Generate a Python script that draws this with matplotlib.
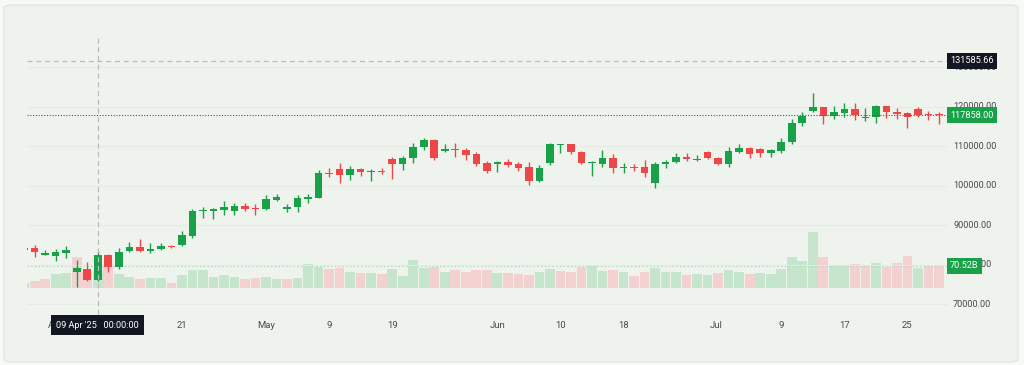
import matplotlib
matplotlib.use("Agg")
import matplotlib.pyplot as plt
from matplotlib.patches import FancyBboxPatch
from matplotlib.lines import Line2D
from matplotlib.transforms import blended_transform_factory
import numpy as np

plt.rcParams["font.family"] = ["Roboto", "DejaVu Sans"]

# ── OHLC data (one candle per bar, left to right) ─────────────────────────────
opens = [83840, 84300, 82530, 82270, 83030, 78150, 78980, 76120, 82530, 79340,
         83540, 84480, 83460, 83890, 84800, 84910, 87260, 93520, 93670, 93840,
         93590, 94930, 94280, 94020, 96380, 94170, 94530, 96630, 96960, 103290,
         104150, 102710, 104150, 103390, 103800, 106680, 105420, 106940, 109720, 111570,
         108860, 109290, 109040, 107950, 105670, 105490, 106070, 105420, 104660, 101260,
         105670, 110230, 110430, 108610, 105670, 105420, 106940, 104480, 104810, 104660,
         100760, 105420, 106000, 107260, 106560, 108450, 107090, 105420, 108610, 109620,
         109210, 108200, 108860, 111140, 115800, 118910, 119850, 117720, 118480, 119340,
         117140, 117320, 120180, 118730, 118330, 119490, 118080, 117950]
highs = [84480, 84980, 83720, 83970, 84730, 81180, 80680, 83460, 82700, 84300,
         85820, 86430, 85410, 85410, 84980, 88530, 94020, 94680, 94280, 96120,
         95540, 95540, 95290, 97640, 97900, 95290, 97640, 97900, 103970, 104400,
         105820, 104990, 104560, 104150, 104560, 107190, 107520, 110730, 112150, 111820,
         110560, 110890, 109470, 108610, 106250, 106250, 106760, 105920, 106070, 105240,
         110730, 110560, 110560, 108780, 106250, 109040, 107950, 105670, 105420, 106500,
         106070, 106500, 108200, 108200, 107770, 108780, 107340, 109870, 110560, 109870,
         109620, 109290, 112000, 116810, 118730, 123390, 119920, 120180, 121010, 120860,
         119600, 120430, 120300, 119600, 118580, 119850, 118990, 118730]
lows = [83460, 82020, 82450, 81010, 81620, 74420, 75940, 75940, 78070, 78830,
        83290, 83250, 82880, 83720, 84300, 84730, 86830, 91740, 91570, 92580,
        92580, 93590, 92580, 93840, 96120, 93410, 93260, 95690, 96810, 102280,
        100610, 101440, 102450, 101260, 102960, 101690, 103970, 105820, 109040, 106500,
        108450, 107340, 106500, 105060, 103290, 103540, 104810, 103800, 100170, 100860,
        105240, 108200, 107950, 105420, 102530, 104810, 103140, 103290, 103720, 102280,
        99340, 104560, 105670, 106250, 106250, 106680, 105240, 104810, 108350, 107090,
        107340, 107340, 108200, 110480, 115110, 118730, 115620, 116890, 117320, 116630,
        116460, 115950, 117060, 116890, 114680, 117320, 116630, 115620]
closes = [84100, 83290, 82960, 83130, 83720, 79080, 76120, 82530, 79340, 83290,
          84480, 83460, 83970, 84800, 84400, 87440, 93590, 93840, 94020, 94680,
          94930, 94170, 94020, 96550, 97060, 94680, 96810, 97140, 103140, 102960,
          102710, 104150, 103390, 103800, 103390, 105420, 106940, 109720, 111570, 107090,
          109290, 108960, 107770, 105420, 103800, 106070, 105240, 104560, 101260, 104400,
          110560, 110430, 108450, 105670, 106070, 106940, 104560, 104810, 104480, 103140,
          105420, 106070, 107190, 106760, 106810, 106940, 105490, 108780, 109620, 107950,
          108200, 108960, 111140, 115800, 117720, 119850, 117720, 118580, 119340, 117900,
          117470, 120180, 118580, 118150, 117470, 117900, 117870, 117858]
# volume in billions
volumes = [16.2, 21.7, 26.9, 44.3, 47.6, 98.0, 51.8, 55.0, 77.6, 44.3,
           35.6, 29.1, 31.4, 31.4, 13.9, 42.1, 57.3, 57.3, 33.3, 42.1,
           33.3, 29.1, 31.4, 33.3, 29.1, 29.1, 32.4, 76.7, 67.9, 59.8,
           64.7, 51.8, 48.5, 48.5, 45.3, 61.5, 38.8, 88.3, 64.7, 67.9,
           49.5, 57.3, 49.5, 57.3, 57.3, 47.6, 47.6, 44.3, 41.1, 49.5,
           59.2, 54.0, 51.8, 67.9, 70.2, 54.0, 58.2, 49.5, 38.8, 51.8,
           63.7, 49.5, 51.8, 41.1, 44.3, 41.1, 48.5, 57.3, 49.5, 44.3,
           48.5, 44.3, 59.2, 99.3, 86.4, 180.2, 98.0, 70.2, 73.4, 76.7,
           70.2, 78.6, 67.9, 80.9, 102.5, 63.7, 70.2, 70.52]

# ── axis labels ───────────────────────────────────────────────────────────────
tick_pos = [3, 15, 23, 29, 35, 45, 51, 57, 65.8, 72, 78, 84]
tick_labels = ["Apr", "21", "May", "9", "19", "Jun", "10", "18", "Jul", "9", "17", "25"]
price_ticks = [70000, 80000, 90000, 100000, 110000, 120000, 130000]
crosshair_idx = 7
crosshair_price = 131585.66
crosshair_label = "09 Apr '25   00:00:00"

GREEN = "#18a149"
RED = "#ef4747"
VOL_GREEN = "#c5e5cd"
VOL_RED = "#f3d1d1"
PANEL = "#eff3ee"
TEXT = "#4a4a4a"

W, H = 1024, 365
fig = plt.figure(figsize=(W / 100, H / 100), dpi=100)
fig.patch.set_facecolor("#f7f8f7")
fig.add_artist(FancyBboxPatch((4 / W, 3 / H), 1014 / W, 357 / H,
                              boxstyle="round,pad=0,rounding_size=0.008",
                              transform=fig.transFigure, facecolor=PANEL,
                              edgecolor="#dfe3df", linewidth=0.8, zorder=0))

rect = [27 / W, 1 - 310 / H, (948 - 27) / W, 290 / H]
vax = fig.add_axes(rect)
ax = fig.add_axes(rect)
for a in (ax, vax):
    a.patch.set_visible(False)
    for s in a.spines.values():
        s.set_visible(False)
    a.set_xticks([])
    a.set_yticks([])
    a.set_xlim(0.27, 87.86)

ax.set_ylim(68524, 141952)
vax.set_ylim(-72.1, 866.0)

n = len(closes)
x = np.arange(n)
o = np.array(opens, float)
c = np.array(closes, float)
hi = np.array(highs, float)
lo = np.array(lows, float)
up = c >= o

# grid
for p in price_ticks:
    ax.axhline(p, color="#e7ebe6", linewidth=0.8, zorder=0)

# volume (colour follows close vs previous close)
prev = np.r_[o[0], c[:-1]]
vol_cols = [VOL_GREEN if c[i] >= prev[i] else VOL_RED for i in range(n)]
vax.bar(x, volumes, width=0.92, color=vol_cols, linewidth=0, zorder=2)
vax.axhline(volumes[-1], color="#a9d6b6", linestyle=(0, (1, 2)), linewidth=0.9, zorder=3)

# candles
cols = [GREEN if u else RED for u in up]
ax.vlines(x, lo, hi, colors=cols, linewidth=1.0, zorder=3)
body = np.maximum(np.abs(c - o), 260)
ax.bar(x, body, bottom=np.minimum(o, c), width=0.72, color=cols, linewidth=0, zorder=4)

# price line + crosshair
ax.axhline(closes[-1], color="#2f6b45", linestyle=(0, (1, 1.5)), linewidth=0.8, zorder=5)
ax.axhline(crosshair_price, color="#b9bdb9", linestyle=(0, (4, 3)), linewidth=0.9, zorder=5)
fig.add_artist(Line2D([crosshair_idx, crosshair_idx], [1 - 38 / H, 1 - 316 / H],
                      transform=blended_transform_factory(ax.transData, fig.transFigure),
                      color="#b9bdb9", linestyle=(0, (4, 3)), linewidth=0.9, zorder=5))

# right price scale
ty = blended_transform_factory(fig.transFigure, ax.transData)
for p in price_ticks:
    ax.text(953 / W, p, f"{p:.2f}", transform=ty, ha="left", va="center",
            fontsize=6.6, color=TEXT, clip_on=False, zorder=6)

box = dict(boxstyle="square,pad=0.35", linewidth=0)
ax.text(950 / W, crosshair_price, f"{crosshair_price:.2f}", transform=ty, ha="left",
        va="center", fontsize=6.6, color="white", clip_on=False, zorder=8,
        bbox=dict(box, facecolor="#131722"))
ax.text(950 / W, closes[-1], f"{closes[-1]:.2f}", transform=ty, ha="left",
        va="center", fontsize=6.6, color="white", clip_on=False, zorder=8,
        bbox=dict(box, facecolor=GREEN))
# volume label lives on the top axes so it covers the 80000 tick text
vty = blended_transform_factory(fig.transFigure, vax.transData)
ax.text(950 / W, volumes[-1], f"{volumes[-1]:.2f}B", transform=vty, ha="left",
        va="center", fontsize=6.6, color="white", clip_on=False, zorder=8,
        bbox=dict(box, facecolor=GREEN))

# time scale
tx = blended_transform_factory(ax.transData, fig.transFigure)
for p, lab in zip(tick_pos, tick_labels):
    ax.text(p, 1 - 325 / H, lab, transform=tx, ha="center", va="center",
            fontsize=6.8, color=TEXT, clip_on=False, zorder=6)
ax.text(crosshair_idx, 1 - 325 / H, crosshair_label, transform=tx, ha="center",
        va="center", fontsize=6.6, color="white", clip_on=False, zorder=8,
        bbox=dict(boxstyle="square,pad=0.55", linewidth=0, facecolor="#131722"))

fig.savefig("out.png", dpi=100, facecolor=fig.get_facecolor())
